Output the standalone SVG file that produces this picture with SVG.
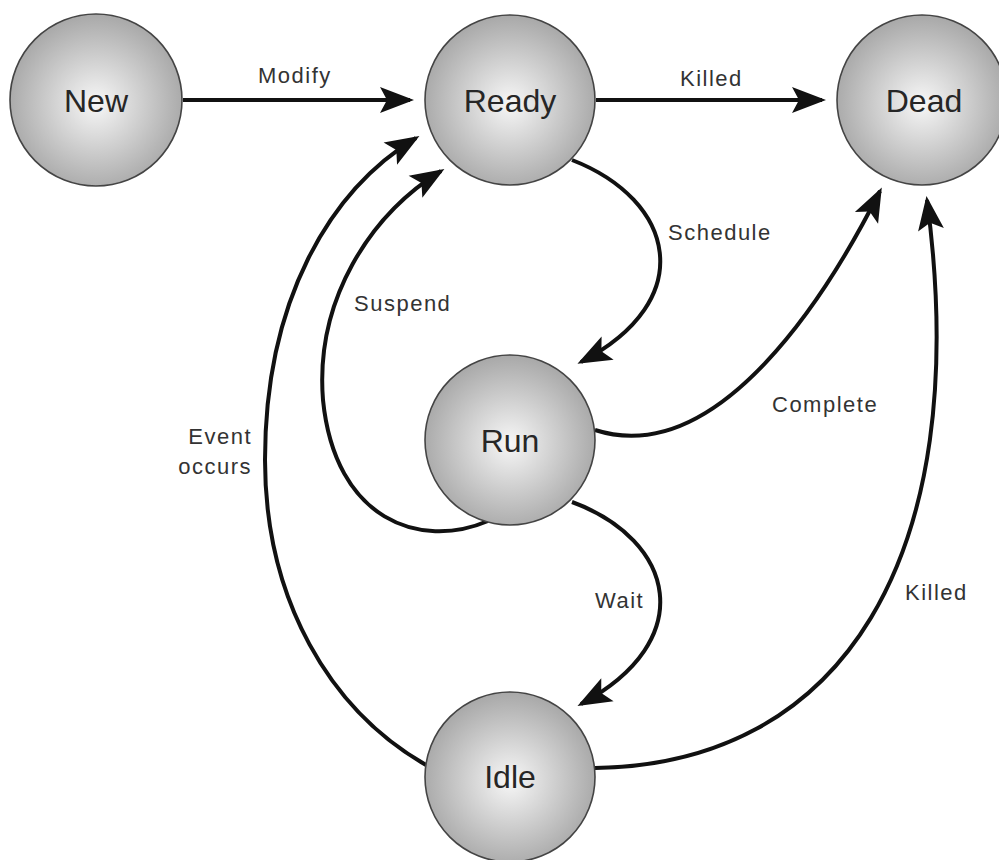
<svg xmlns="http://www.w3.org/2000/svg" width="999" height="860" viewBox="0 0 999 860">
<style>
.node{fill:url(#g);stroke:#444;stroke-width:1.6}
.nt{font-family:"Liberation Sans",Arial,sans-serif;font-size:32px;fill:#262626;text-anchor:middle}
.lb{font-family:"Liberation Sans",Arial,sans-serif;font-size:22px;fill:#333;letter-spacing:1.5px}
.c{fill:none;stroke:#111;stroke-width:4;marker-end:url(#ah)}
</style>
<defs>
<radialGradient id="g" cx="50%" cy="52%" r="52%">
<stop offset="0" stop-color="#f7f7f7"/>
<stop offset="1" stop-color="#a8a8a8"/>
</radialGradient>
<marker id="ah" markerUnits="userSpaceOnUse" markerWidth="40" markerHeight="32" viewBox="-32 -16 40 32" refX="0" refY="0" orient="auto">
<path d="M4,0 L-30,-13 L-23,0 L-30,13 Z" fill="#111"/>
</marker>
</defs>
<rect width="999" height="860" fill="#fff"/>
<g id="connectors">
<path class="c" d="M183,100 L410,100"/>
<path class="c" d="M596,100 L822,100"/>
<path class="c" d="M572,160 C675,200 700,300 581,362"/>
<path class="c" d="M488,521 C420,550 335,520 323,400 C315,300 370,215 441,171"/>
<path class="c" d="M426,765 C330,710 265,600 265,460 C265,300 330,190 416,138"/>
<path class="c" d="M595,430 C720,470 830,290 880,191"/>
<path class="c" d="M572,502 C675,540 700,640 581,704"/>
<path class="c" d="M595,768 C840,765 975,560 927,200"/>
</g>
<g id="labels">
<text class="lb" x="258" y="83">Modify</text>
<text class="lb" x="680" y="86">Killed</text>
<text class="lb" x="668" y="240">Schedule</text>
<text class="lb" x="354" y="311">Suspend</text>
<text class="lb" x="772" y="412">Complete</text>
<text class="lb" x="252" y="444" text-anchor="end">Event</text>
<text class="lb" x="252" y="474" text-anchor="end">occurs</text>
<text class="lb" x="595" y="608">Wait</text>
<text class="lb" x="905" y="600">Killed</text>
</g>
<g id="node-new"><circle class="node" cx="96" cy="100" r="86"/><text class="nt" x="96" y="112">New</text></g>
<g id="node-ready"><circle class="node" cx="510" cy="100" r="85"/><text class="nt" x="510" y="112">Ready</text></g>
<g id="node-dead"><circle class="node" cx="922" cy="100" r="85"/><text class="nt" x="924" y="112">Dead</text></g>
<g id="node-run"><circle class="node" cx="510" cy="440" r="85"/><text class="nt" x="510" y="452">Run</text></g>
<g id="node-idle"><circle class="node" cx="510" cy="777" r="85"/><text class="nt" x="510" y="788">Idle</text></g>
</svg>
